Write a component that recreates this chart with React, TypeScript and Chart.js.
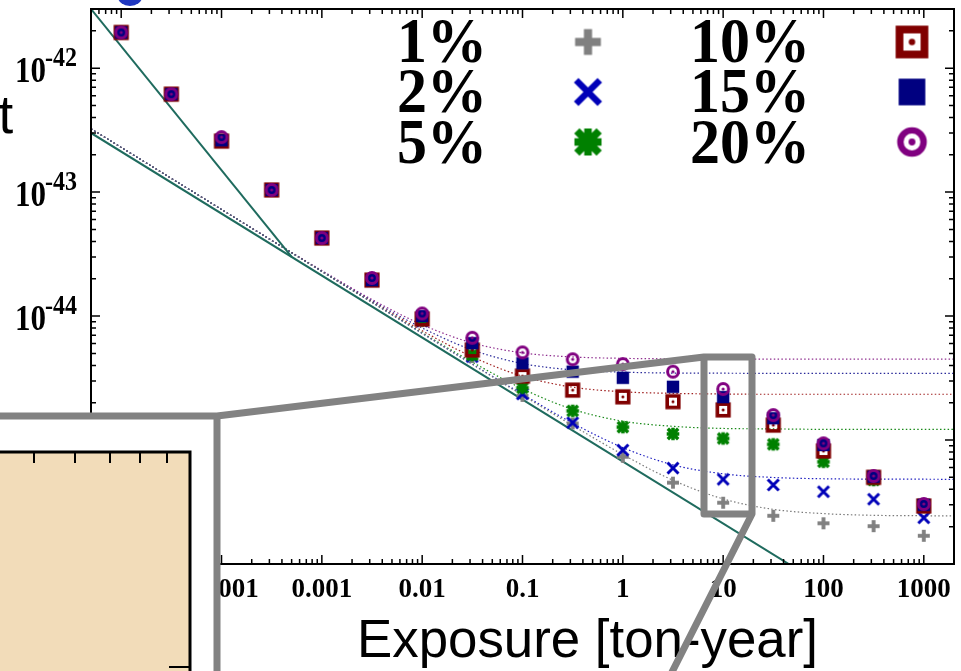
import React, { useEffect, useRef } from 'react';
import { Chart, registerables } from 'chart.js';

Chart.register(...registerables);

// ---------- data ----------
const seriesLabels = ['1%', '2%', '5%', '10%', '15%', '20%'];
const seriesColors = ['#808080', '#0000b8', '#008000', '#800000', '#000080', '#800080'];
const seriesMarkers = ['plus', 'cross', 'star', 'sqdot', 'square', 'circdot'];

const exposure = [1e-5, 3.16e-5, 1e-4, 3.16e-4, 1e-3, 3.16e-3, 0.01, 0.0316, 0.1, 0.316, 1, 3.16, 10, 31.6, 100, 316, 1000];

const limit1 = [1.94e-42, 6.17e-43, 2.62e-43, 1.04e-43, 4.26e-44, 1.95e-44, 9.1e-45, 4.67e-45, 2.27e-45, 1.36e-45, 7.33e-46, 4.53e-46, 3.12e-46, 2.45e-46, 2.13e-46, 2.02e-46, 1.69e-46];
const limit2 = [1.94e-42, 6.17e-43, 2.62e-43, 1.04e-43, 4.26e-44, 1.95e-44, 9.1e-45, 4.7e-45, 2.35e-45, 1.38e-45, 8.3e-46, 5.94e-46, 4.82e-46, 4.34e-46, 3.83e-46, 3.33e-46, 2.36e-46];
const limit5 = [1.94e-42, 6.17e-43, 2.62e-43, 1.04e-43, 4.26e-44, 1.95e-44, 9.28e-45, 4.85e-45, 2.64e-45, 1.72e-45, 1.27e-45, 1.12e-45, 1.03e-45, 9.23e-46, 6.68e-46, 4.75e-46, 2.9e-46];
const limit10 = [1.94e-42, 6.17e-43, 2.58e-43, 1.04e-43, 4.26e-44, 1.95e-44, 9.46e-45, 5.32e-45, 3.28e-45, 2.53e-45, 2.23e-45, 2.04e-45, 1.75e-45, 1.32e-45, 8.15e-46, 5.0e-46, 2.94e-46];
const limit15 = [1.94e-42, 6.17e-43, 2.62e-43, 1.04e-43, 4.26e-44, 1.95e-44, 1.0e-44, 6.05e-45, 4.16e-45, 3.56e-45, 3.18e-45, 2.69e-45, 2.22e-45, 1.5e-45, 9.12e-46, 5.06e-46, 3.0e-46];
const limit20 = [1.94e-42, 6.17e-43, 2.78e-43, 1.04e-43, 4.26e-44, 2.03e-44, 1.05e-44, 6.68e-45, 5.09e-45, 4.48e-45, 4.1e-45, 3.56e-45, 2.58e-45, 1.59e-45, 9.4e-46, 5.13e-46, 3.05e-46];

const curveExposure = [5e-6, 1e-5, 3.16e-5, 1e-4, 3.16e-4, 1e-3, 3.16e-3, 0.01, 0.0316, 0.1, 0.316, 1, 3.16, 10, 31.6, 100, 316, 1000, 2000];
const curve1 = [3.24e-43, 2.29e-43, 1.29e-43, 7.24e-44, 4.07e-44, 2.29e-44, 1.29e-44, 7.24e-45, 4.08e-45, 2.3e-45, 1.31e-45, 7.64e-46, 4.74e-46, 3.35e-46, 2.76e-46, 2.55e-46, 2.47e-46, 2.45e-46, 2.44e-46];
const curve2 = [3.24e-43, 2.29e-43, 1.29e-43, 7.24e-44, 4.07e-44, 2.29e-44, 1.29e-44, 7.25e-45, 4.1e-45, 2.34e-45, 1.37e-45, 8.69e-46, 6.31e-46, 5.34e-46, 4.99e-46, 4.87e-46, 4.84e-46, 4.83e-46, 4.82e-46];
const curve5 = [3.24e-43, 2.29e-43, 1.29e-43, 7.24e-44, 4.07e-44, 2.29e-44, 1.29e-44, 7.34e-45, 4.25e-45, 2.59e-45, 1.77e-45, 1.42e-45, 1.29e-45, 1.24e-45, 1.23e-45, 1.22e-45, 1.22e-45, 1.22e-45, 1.22e-45];
const curve10 = [3.24e-43, 2.29e-43, 1.29e-43, 7.24e-44, 4.08e-44, 2.3e-44, 1.31e-44, 7.61e-45, 4.69e-45, 3.27e-45, 2.67e-45, 2.45e-45, 2.38e-45, 2.35e-45, 2.34e-45, 2.34e-45, 2.34e-45, 2.34e-45, 2.34e-45];
const curve15 = [3.24e-43, 2.29e-43, 1.29e-43, 7.24e-44, 4.08e-44, 2.31e-44, 1.33e-44, 8.02e-45, 5.33e-45, 4.14e-45, 3.68e-45, 3.53e-45, 3.47e-45, 3.46e-45, 3.45e-45, 3.45e-45, 3.45e-45, 3.45e-45, 3.45e-45];
const curve20 = [3.24e-43, 2.29e-43, 1.29e-43, 7.25e-44, 4.09e-44, 2.33e-44, 1.36e-44, 8.52e-45, 6.07e-45, 5.05e-45, 4.68e-45, 4.56e-45, 4.52e-45, 4.51e-45, 4.5e-45, 4.5e-45, 4.5e-45, 4.5e-45, 4.5e-45];

const steepExposure = [5e-6, 5e-4];
const steepLimit = [3e-42, 3e-44];
const sqrtExposure = [5e-6, 2000];
const sqrtLimit = [3e-43, 1.5e-47];

const xMin = 5e-6;
const xMax = 2000;
const yMin = 1e-46;
const yMax = 3e-42;

const xTickValues = [1e-4, 1e-3, 0.01, 0.1, 1, 10, 100, 1000];
const xTickLabels = ['0.0001', '0.001', '0.01', '0.1', '1', '10', '100', '1000'];
const yTickValues = [1e-42, 1e-43, 1e-44, 1e-45, 1e-46];
const yTickExponents = ['-42', '-43', '-44', '-45', '-46'];
const xTitle = 'Exposure [ton-year]';

const limits = [limit1, limit2, limit5, limit10, limit15, limit20];
const curves = [curve1, curve2, curve5, curve10, curve15, curve20];
const curveColors = ['#7a7a7a', '#2020c0', '#1a8a1a', '#a02020', '#2a2a9a', '#903090'];

const SERIF = '"Liberation Serif", "Times New Roman", serif';
const SANS = '"Liberation Sans", Arial, sans-serif';

function makeMarker(kind: string, color: string, s: number): HTMLCanvasElement {
  const size = Math.ceil(18 * s);
  const c = document.createElement('canvas');
  c.width = size;
  c.height = size;
  const g = c.getContext('2d') as CanvasRenderingContext2D;
  g.translate(size / 2, size / 2);
  g.scale(s, s);
  g.fillStyle = color;
  g.strokeStyle = color;
  g.lineCap = 'butt';
  if (kind === 'plus') {
    g.fillRect(-6, -1.9, 12, 3.8);
    g.fillRect(-1.9, -6, 3.8, 12);
  } else if (kind === 'cross') {
    g.lineWidth = 3;
    g.beginPath();
    g.moveTo(-5.5, -5.5); g.lineTo(5.5, 5.5);
    g.moveTo(5.5, -5.5); g.lineTo(-5.5, 5.5);
    g.stroke();
  } else if (kind === 'star') {
    g.lineWidth = 3.5;
    g.beginPath();
    g.moveTo(-6.3, 0); g.lineTo(6.3, 0);
    g.moveTo(0, -6.3); g.lineTo(0, 6.3);
    g.moveTo(-5.2, -5.2); g.lineTo(5.2, 5.2);
    g.moveTo(5.2, -5.2); g.lineTo(-5.2, 5.2);
    g.stroke();
  } else if (kind === 'sqdot') {
    g.lineWidth = 3.6;
    g.strokeRect(-5.8, -5.8, 11.6, 11.6);
    g.beginPath(); g.arc(0, 0, 1.5, 0, Math.PI * 2); g.fill();
  } else if (kind === 'square') {
    g.fillRect(-6.2, -6.2, 12.4, 12.4);
  } else if (kind === 'circdot') {
    g.lineWidth = 3;
    g.beginPath(); g.arc(0, 0, 5.4, 0, Math.PI * 2); g.stroke();
    g.beginPath(); g.arc(0, 0, 1.6, 0, Math.PI * 2); g.fill();
  }
  return c;
}

export default function App() {
  const ref = useRef<HTMLCanvasElement | null>(null);

  useEffect(() => {
    const canvas = ref.current;
    if (!canvas) return;

    const plotMarkers = seriesMarkers.map((m, i) => makeMarker(m, seriesColors[i], 1));
    const legendMarkers = seriesMarkers.map((m, i) => makeMarker(m, seriesColors[i], 2.15));

    const datasets: any[] = [];
    limits.forEach((arr, i) => {
      datasets.push({
        label: seriesLabels[i],
        data: exposure.map((x, k) => ({ x, y: arr[k] })),
        showLine: false,
        pointStyle: plotMarkers[i],
        pointRadius: 6,
        order: 5 - i,
      });
    });
    curves.forEach((arr, i) => {
      datasets.push({
        label: seriesLabels[i] + ' curve',
        data: curveExposure.map((x, k) => ({ x, y: arr[k] })),
        showLine: true,
        borderColor: curveColors[i],
        borderWidth: 1.2,
        borderDash: [1.5, 2.3],
        pointRadius: 0,
        cubicInterpolationMode: 'monotone',
        order: 20,
      });
    });
    datasets.push({
      label: 'steep',
      data: steepExposure.map((x, k) => ({ x, y: steepLimit[k] })),
      showLine: true,
      borderColor: '#1f6b5e',
      borderWidth: 2,
      pointRadius: 0,
      order: 15,
    });
    datasets.push({
      label: 'sqrt',
      data: sqrtExposure.map((x, k) => ({ x, y: sqrtLimit[k] })),
      showLine: true,
      borderColor: '#1f6b5e',
      borderWidth: 2,
      pointRadius: 0,
      order: 15,
    });

    const decor = {
      id: 'decor',
      afterDraw(chart: any) {
        const ctx: CanvasRenderingContext2D = chart.ctx;
        const xs = chart.scales.x;
        const ys = chart.scales.y;
        const { left, right, top, bottom } = chart.chartArea;
        ctx.save();

        // frame
        ctx.strokeStyle = '#000';
        ctx.lineWidth = 2;
        ctx.strokeRect(left, top, right - left, bottom - top);

        // ticks
        ctx.lineWidth = 1.5;
        ctx.beginPath();
        for (let e = -6; e <= 3; e++) {
          for (let k = 1; k <= 9; k++) {
            const v = k * Math.pow(10, e);
            if (v < xMin * 0.999 || v > xMax * 1.001) continue;
            const px = xs.getPixelForValue(v);
            const len = k === 1 ? 9 : 5;
            ctx.moveTo(px, bottom); ctx.lineTo(px, bottom - len);
            ctx.moveTo(px, top); ctx.lineTo(px, top + len);
          }
        }
        for (let e = -47; e <= -42; e++) {
          for (let k = 1; k <= 9; k++) {
            const v = k * Math.pow(10, e);
            if (v < yMin * 0.999 || v > yMax * 1.001) continue;
            const py = ys.getPixelForValue(v);
            const len = k === 1 ? 9 : 5;
            ctx.moveTo(left, py); ctx.lineTo(left + len, py);
            ctx.moveTo(right, py); ctx.lineTo(right - len, py);
          }
        }
        ctx.stroke();

        // tick labels
        ctx.fillStyle = '#000';
        ctx.font = `bold 27px ${SERIF}`;
        ctx.textAlign = 'center';
        ctx.textBaseline = 'alphabetic';
        xTickValues.forEach((v, i) => {
          ctx.fillText(xTickLabels[i], xs.getPixelForValue(v), 597);
        });
        yTickValues.forEach((v, i) => {
          const py = ys.getPixelForValue(v);
          ctx.save();
          ctx.translate(46, py + 14);
          ctx.scale(1, 1.15);
          ctx.font = `bold 31px ${SERIF}`;
          ctx.textAlign = 'right';
          ctx.fillText('10', 0, 0);
          ctx.restore();
          ctx.save();
          ctx.translate(45, py - 2);
          ctx.scale(1, 1.1);
          ctx.font = `bold 24px ${SERIF}`;
          ctx.textAlign = 'left';
          ctx.fillText(yTickExponents[i], 0, 0);
          ctx.restore();
        });

        // axis title
        ctx.font = `50px ${SANS}`;
        const w = ctx.measureText(xTitle).width;
        const fs = 50 * 461 / w;
        ctx.font = `${fs.toFixed(2)}px ${SANS}`;
        ctx.textAlign = 'center';
        ctx.fillText(xTitle, 587.5, 657);
        ctx.textAlign = 'left';
        ctx.fillText('t', -1.5, 133);

        // legend
        const textRight = [487, 810];
        const markerX = [588, 912];
        const baselines = [62, 112, 163];
        const markerY = [42, 92, 142];
        seriesLabels.forEach((lab, i) => {
          const col = Math.floor(i / 3);
          const row = i % 3;
          ctx.save();
          ctx.translate(textRight[col], baselines[row]);
          ctx.scale(1, 1.06);
          ctx.font = `bold 60px ${SERIF}`;
          ctx.textAlign = 'right';
          ctx.fillStyle = '#000';
          ctx.fillText(lab, 0, 0);
          ctx.restore();
          const m = legendMarkers[i];
          ctx.drawImage(m, markerX[col] - m.width / 2, markerY[row] - m.height / 2);
        });

        // blue fragment at top
        ctx.fillStyle = '#2038c0';
        ctx.beginPath();
        ctx.ellipse(130, -3, 12, 9, 0, 0, Math.PI * 2);
        ctx.fill();

        // inset white box
        ctx.fillStyle = '#ffffff';
        ctx.fillRect(-10, 416, 227, 270);
        // tan inset
        ctx.fillStyle = '#f2dcb9';
        ctx.fillRect(-10, 452, 200, 230);
        ctx.strokeStyle = '#000';
        ctx.lineWidth = 3;
        ctx.beginPath();
        ctx.moveTo(-10, 452); ctx.lineTo(190, 452); ctx.lineTo(190, 690);
        ctx.stroke();
        ctx.lineWidth = 2;
        ctx.beginPath();
        [34, 75, 110, 140, 167].forEach((tx) => { ctx.moveTo(tx, 452); ctx.lineTo(tx, 463); });
        ctx.moveTo(190, 667); ctx.lineTo(169, 667);
        ctx.stroke();

        // grey magnifier lines
        ctx.strokeStyle = '#828282';
        ctx.lineWidth = 7;
        ctx.lineJoin = 'round';
        ctx.lineCap = 'butt';
        ctx.beginPath();
        ctx.moveTo(-10, 416); ctx.lineTo(217, 416); ctx.lineTo(704, 357);
        ctx.lineTo(752, 357); ctx.lineTo(752, 514); ctx.lineTo(668, 680);
        ctx.stroke();
        ctx.beginPath();
        ctx.moveTo(217, 416); ctx.lineTo(217, 690);
        ctx.stroke();
        ctx.beginPath();
        ctx.moveTo(704, 357); ctx.lineTo(704, 514); ctx.lineTo(752, 514);
        ctx.stroke();

        ctx.restore();
      },
    };

    const chart = new Chart(canvas, {
      type: 'scatter',
      data: { datasets },
      options: {
        animation: false,
        responsive: false,
        devicePixelRatio: 1,
        events: [],
        layout: { padding: { left: 91, top: 9, right: 2, bottom: 107 } },
        plugins: { legend: { display: false }, tooltip: { enabled: false } },
        scales: {
          x: { type: 'logarithmic', min: xMin, max: xMax, display: false },
          y: { type: 'logarithmic', min: yMin, max: yMax, display: false },
        },
      } as any,
      plugins: [decor],
    });

    return () => chart.destroy();
  }, []);

  return (
    <div style={{ position: 'absolute', left: 0, top: 0, width: 961, height: 671, background: '#fff' }}>
      <canvas ref={ref} width={961} height={671} style={{ display: 'block', width: 961, height: 671 }} />
    </div>
  );
}
